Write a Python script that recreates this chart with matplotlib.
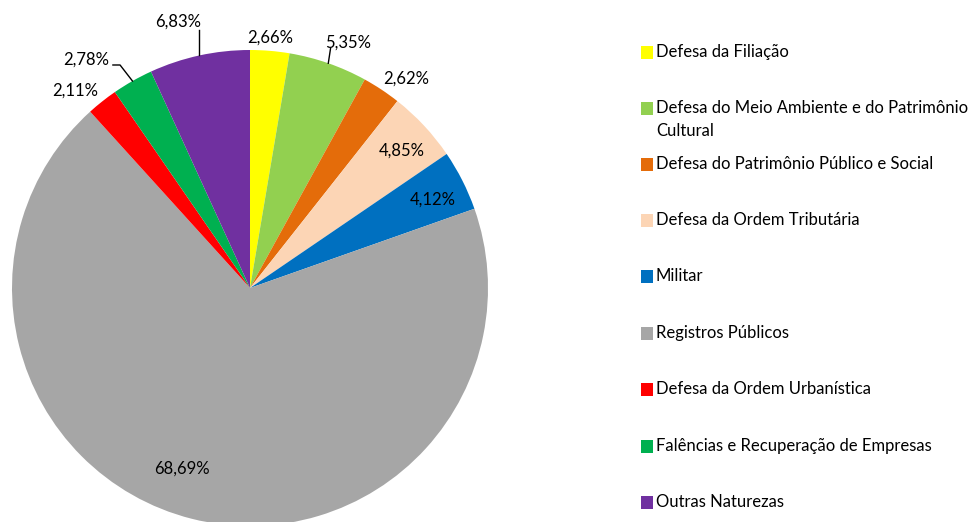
import numpy as np
import matplotlib
matplotlib.use("Agg")
import matplotlib.pyplot as plt
from matplotlib.patches import Rectangle

categories = [
    "Defesa da Filiação",
    "Defesa do Meio Ambiente e do Patrimônio\nCultural",
    "Defesa do Patrimônio Público e Social",
    "Defesa da Ordem Tributária",
    "Militar",
    "Registros Públicos",
    "Defesa da Ordem Urbanística",
    "Falências e Recuperação de Empresas",
    "Outras Naturezas",
]
values = [2.66, 5.35, 2.62, 4.85, 4.12, 68.69, 2.11, 2.78, 6.83]
value_labels = ["2,66%", "5,35%", "2,62%", "4,85%", "4,12%", "68,69%", "2,11%", "2,78%", "6,83%"]
colors = ["#FFFF00", "#92D050", "#E46C0A", "#FCD5B5", "#0070C0",
          "#A6A6A6", "#FF0000", "#00B050", "#7030A0"]

# layout for labels: (radius, angle offset in degrees)
label_layout = [(1.054, 0.2), (1.11, -2.5), (1.10, -3.2), (0.86, -1.0), (0.855, -1.1),
                (0.81, -6.5), (1.108, 3.0), (1.18, 6.0), (1.16, 2.7)]

plt.rcParams['font.family'] = ['Lato', 'DejaVu Sans']
W, H = 978, 522
fig = plt.figure(figsize=(W / 100, H / 100), dpi=100)

cx, cy, R = 250, 288, 238
ax = fig.add_axes([(cx - R) / W, (H - cy - R) / H, 2 * R / W, 2 * R / H])
ax.axis('off')

wedges, _ = ax.pie(values, colors=colors, startangle=90, counterclock=False,
                   radius=1, wedgeprops=dict(linewidth=0))
ax.set_xlim(-1, 1)
ax.set_ylim(-1, 1)
ax.set_aspect('equal')
for w in wedges:
    w.set_clip_on(False)

for w, lab, (r, off) in zip(wedges, value_labels, label_layout):
    mid = np.deg2rad((w.theta1 + w.theta2) / 2 + off)
    ax.text(r * np.cos(mid), r * np.sin(mid), lab, ha='center', va='center',
            fontsize=12, color='#000000', clip_on=False)

def mid_point(w, r=1.0):
    a = np.deg2rad((w.theta1 + w.theta2) / 2)
    return r * np.cos(a), r * np.sin(a)

# leader lines
x0, y0 = mid_point(wedges[1])
x1, y1 = mid_point(wedges[1], 1.065)
ax.plot([x0, x1 - 0.012], [y0, y1], color='black', lw=1, clip_on=False)
x0, y0 = mid_point(wedges[7])
ax.plot([x0, -0.546, -0.576], [y0, 0.937, 0.937], color='black', lw=1, clip_on=False)
x0, y0 = mid_point(wedges[8])
ax.plot([x0, x0], [y0, 1.084], color='black', lw=1, clip_on=False)

# legend
leg_y = [52, 108, 164, 220, 276, 333, 389, 446, 502]
for name, col, yy in zip(categories, colors, leg_y):
    fig.patches.append(Rectangle((641 / W, 1 - (yy + 6.5) / H), 12 / W, 13 / H,
                                 transform=fig.transFigure, facecolor=col,
                                 edgecolor='none'))
    if '\n' in name:
        fig.text(656 / W, 1 - (yy - 8) / H, name, ha='left', va='top',
                 fontsize=12, linespacing=1.5)
    else:
        fig.text(656 / W, 1 - yy / H, name, ha='left', va='center', fontsize=12)

fig.savefig("out.png", dpi=100)
